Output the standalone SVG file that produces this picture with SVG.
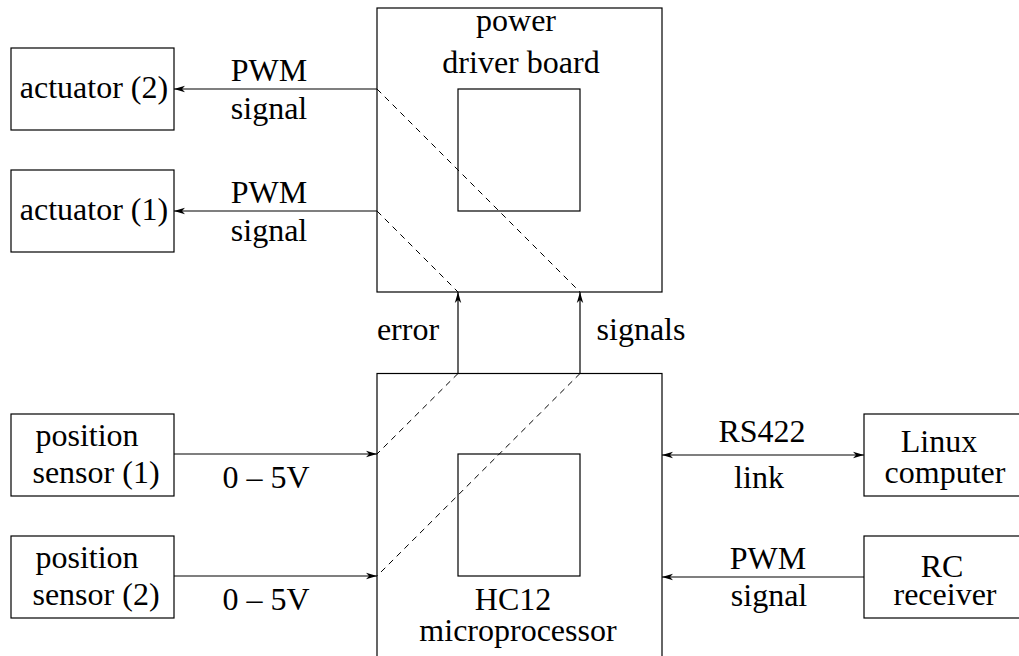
<svg xmlns="http://www.w3.org/2000/svg" width="1019" height="656" viewBox="0 0 1019 656">
<style>
.box{fill:#fff;stroke:#000;stroke-width:1.2}
.inner{fill:none;stroke:#000;stroke-width:1.2}
.ln{fill:none;stroke:#000;stroke-width:1.2}
.dash{fill:none;stroke:#000;stroke-width:1;stroke-dasharray:6,5}
text{font-family:"Liberation Serif","Times New Roman",serif;font-size:32px;fill:#000;text-anchor:middle}
</style>
<defs>
<marker id="ah" markerUnits="userSpaceOnUse" markerWidth="12" markerHeight="8" refX="11" refY="4" orient="auto-start-reverse">
<path d="M0,0.8 L11,4 L0,7.2 L3,4 Z" fill="#000"/>
</marker>
</defs>
<rect width="1019" height="656" fill="#fff"/>
<g id="power-driver-board">
<rect class="box" x="377" y="8" width="285" height="284"/>
<rect class="inner" x="458" y="89" width="122" height="122"/>
<text x="516" y="31">power</text>
<text x="521" y="73">driver board</text>
</g>
<g id="hc12">
<rect class="box" x="377" y="373.5" width="285" height="290"/>
<rect class="inner" x="458" y="454" width="122" height="122"/>
<text x="513" y="610">HC12</text>
<text x="518" y="641">microprocessor</text>
</g>
<g id="actuator2">
<rect class="box" x="11" y="48" width="163" height="82"/>
<text x="94" y="98">actuator (2)</text>
</g>
<g id="actuator1">
<rect class="box" x="11" y="170" width="163" height="82"/>
<text x="94" y="220">actuator (1)</text>
</g>
<g id="sensor1">
<rect class="box" x="11" y="414" width="163" height="82"/>
<text x="87" y="446">position</text>
<text x="96" y="483">sensor (1)</text>
</g>
<g id="sensor2">
<rect class="box" x="11" y="536" width="163" height="82"/>
<text x="87" y="568">position</text>
<text x="96" y="605">sensor (2)</text>
</g>
<g id="linux">
<rect class="box" x="864" y="414" width="160" height="82"/>
<text x="939" y="452">Linux</text>
<text x="945" y="483">computer</text>
</g>
<g id="rc">
<rect class="box" x="864" y="536" width="160" height="82"/>
<text x="942" y="577">RC</text>
<text x="945" y="605">receiver</text>
</g>
<g id="connectors">
<line class="ln" x1="377" y1="89" x2="174" y2="89" marker-end="url(#ah)"/>
<line class="ln" x1="377" y1="211" x2="174" y2="211" marker-end="url(#ah)"/>
<line class="ln" x1="174" y1="454" x2="377" y2="454" marker-end="url(#ah)"/>
<line class="ln" x1="174" y1="576" x2="377" y2="576" marker-end="url(#ah)"/>
<line class="ln" x1="458" y1="373.5" x2="458" y2="292" marker-end="url(#ah)"/>
<line class="ln" x1="580" y1="373.5" x2="580" y2="292" marker-end="url(#ah)"/>
<line class="ln" x1="662" y1="455" x2="864" y2="455" marker-start="url(#ah)" marker-end="url(#ah)"/>
<line class="ln" x1="864" y1="577" x2="662" y2="577" marker-end="url(#ah)"/>
<line class="dash" x1="377" y1="89" x2="580" y2="292"/>
<line class="dash" x1="377" y1="211" x2="458" y2="292"/>
<line class="dash" x1="458" y1="373.5" x2="377" y2="454"/>
<line class="dash" x1="580" y1="373.5" x2="377" y2="576"/>
<text x="269" y="81">PWM</text>
<text x="269" y="119">signal</text>
<text x="269" y="203">PWM</text>
<text x="269" y="241">signal</text>
<text x="408" y="340">error</text>
<text x="641" y="340">signals</text>
<text x="266" y="488">0 – 5V</text>
<text x="266" y="610">0 – 5V</text>
<text x="762" y="442">RS422</text>
<text x="759" y="488">link</text>
<text x="768" y="569">PWM</text>
<text x="769" y="606">signal</text>
</g>
</svg>
